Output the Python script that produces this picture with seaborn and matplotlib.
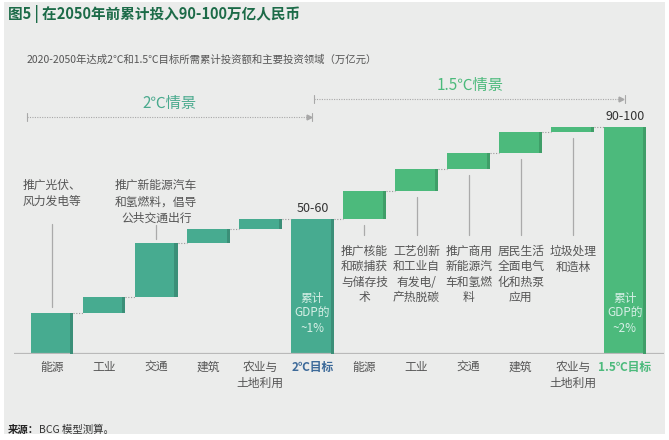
import numpy as np
import pandas as pd
import matplotlib
matplotlib.use("Agg")
import matplotlib.pyplot as plt
from matplotlib.patches import Rectangle
import seaborn as sns

# values (万亿元)
sectors = ["能源", "工业", "交通", "建筑", "农业与\n土地利用"]
inc_2c = [17.0, 6.7, 22.5, 5.8, 4.2]
inc_15 = [11.7, 9.2, 6.7, 8.7, 2.1]
total_labels = ["50-60", "90-100"]
target_labels = ["2℃目标", "1.5℃目标"]
gdp_notes = ["累计\nGDP的\n~1%", "累计\nGDP的\n~2%"]
notes_2c = {0: "推广光伏、\n风力发电等", 2: "推广新能源汽车\n和氢燃料，倡导\n公共交通出行"}
notes_15 = ["推广核能\n和碳捕获\n与储存技\n术", "工艺创新\n和工业自\n有发电/\n产热脱碳",
            "推广商用\n新能源汽\n车和氢燃\n料", "居民生活\n全面电气\n化和热泵\n应用", "垃圾处理\n和造林"]

teal, teal_dark = "#47ab90", "#3b8f78"
green, green_dark = "#4cba7c", "#3f9e68"

total_2c = sum(inc_2c)
total_15 = total_2c + sum(inc_15)
b2 = np.concatenate([[0], np.cumsum(inc_2c)[:-1]])
b15 = total_2c + np.concatenate([[0], np.cumsum(inc_15)[:-1]])

df = pd.DataFrame({
    "pos": range(12),
    "label": sectors + [target_labels[0]] + sectors + [target_labels[1]],
    "height": inc_2c + [total_2c] + inc_15 + [total_15],
    "bottom": list(b2) + [0] + list(b15) + [0],
    "color": [teal] * 6 + [green] * 6,
    "dark": [teal_dark] * 6 + [green_dark] * 6,
})
df["top"] = df["bottom"] + df["height"]

sns.set_theme(style="white")
plt.rcParams["font.family"] = ["Noto Sans CJK SC", "DejaVu Sans"]

W, H = 669, 440
fig = plt.figure(figsize=(W / 100, H / 100), dpi=100)
fig.patch.set_facecolor("white")
fig.add_artist(Rectangle((4 / W, 1 - 434 / H), 661 / W, 432 / H, transform=fig.transFigure,
                         facecolor="#ebeceb", edgecolor="none", zorder=-10))

ppu = 2.4  # pixels per unit
ax = fig.add_axes([14 / W, 1 - 354 / H, 650 / W, 274 / H])
ax.set_facecolor("none")

sns.barplot(data=df, x="pos", y="height", bottom=df["bottom"].values, width=0.82,
            errorbar=None, linewidth=0, color=teal, saturation=1, ax=ax)
strip = 0.058
for patch, c, dk in zip(ax.patches, df["color"], df["dark"]):
    patch.set_facecolor(c)
    x0, y0 = patch.get_x(), patch.get_y()
    w, h = patch.get_width(), patch.get_height()
    ax.add_patch(Rectangle((x0 + w - strip, y0), strip, h, facecolor=dk, edgecolor="none", zorder=3))

ax.set_xlim(-0.729, 11.75)
ax.set_ylim(0, 274 / ppu)
for s in ax.spines.values():
    s.set_visible(False)
ax.set_yticks([])
ax.set_xlabel("")
ax.set_ylabel("")
ax.axhline(0, color="#b9b9b9", lw=1.6, zorder=1)

# connectors
half = 0.41
for i in range(11):
    ax.plot([i + half, i + 1 - half], [df["top"][i]] * 2, color="#9a9a9a", lw=0.8, ls=(0, (1, 1.5)))

# x tick labels
ax.set_xticks(df["pos"])
ax.set_xticklabels(df["label"], fontsize=8.5, color="#555555", linespacing=1.25)
ax.tick_params(axis="x", length=0, pad=5)
tl = ax.get_xticklabels()
tl[5].set_color("#3d6a99")
tl[5].set_fontweight("bold")
tl[11].set_color(green)
tl[11].set_fontweight("bold")

# totals
for i, lab, note in [(5, total_labels[0], gdp_notes[0]), (11, total_labels[1], gdp_notes[1])]:
    ax.annotate(lab, (i, df["top"][i]), xytext=(0, 3), textcoords="offset points",
                ha="center", va="bottom", fontsize=9, color="#333333")
    ax.text(i, 17.0, note, ha="center", va="center", fontsize=8.5, color="#d6efe6", linespacing=1.2)

# 2C notes above bars
ax.text(-0.557, 72.8, notes_2c[0], ha="left", va="top", fontsize=8.5, color="#555555", linespacing=1.3)
ax.plot([0, 0], [19.6, 54.2], color="#aaaaaa", lw=0.9)
ax.text(2.0, 72.8, notes_2c[2], ha="center", va="top", fontsize=8.5, color="#555555", linespacing=1.3)
ax.plot([2, 2], [df["top"][2] + 1.7, 53.8], color="#aaaaaa", lw=0.9)

# 1.5C notes below bars
for k, note in enumerate(notes_15):
    i = 6 + k
    ax.plot([i, i], [49.6, df["bottom"][i] - 2.6], color="#aaaaaa", lw=0.9)
    ax.text(i, 45.5, note, ha="center", va="top", fontsize=8.5, color="#555555", linespacing=1.25)

# scenario headers
def header(x0, x1, y, text, ty, tx, col):
    ax.plot([x0, x1 - 0.05], [y, y], color="#a8a8a8", lw=0.8, ls=(0, (1, 1.2)), clip_on=False)
    ax.plot([x0, x0], [y - 1.6, y + 1.6], color="#a8a8a8", lw=0.8, clip_on=False)
    ax.plot([x1, x1], [y - 1.6, y + 1.6], color="#a8a8a8", lw=0.8, clip_on=False)
    ax.plot([x1 - 0.07], [y], marker=">", ms=3.5, color="#a8a8a8", clip_on=False)
    ax.text(tx, ty, text, ha="center", va="center", fontsize=11, color=col, clip_on=False)

header(-0.48, 5.0, 98.75, "2℃情景", 104.2, 2.26, "#4aaa8e")
header(5.03, 11.0, 106.25, "1.5℃情景", 111.7, 8.02, green)

# title, subtitle, source
fig.text(8 / W, 1 - 14 / H, "图5 | 在2050年前累计投入90-100万亿人民币", fontsize=10.5,
         fontweight="bold", color="#1c6b48", va="center")
fig.text(27 / W, 1 - 60 / H, "2020-2050年达成2℃和1.5℃目标所需累计投资额和主要投资领域（万亿元）",
         fontsize=7.5, color="#555555", va="center")
src = fig.text(8 / W, 1 - 430 / H, "来源：", fontsize=7.5, fontweight="bold", color="#222222", va="center")
ax.annotate("BCG 模型测算。", xy=(1, 0.5), xycoords=src, va="center", ha="left",
            fontsize=7.5, color="#333333", annotation_clip=False)

fig.savefig("out.png", dpi=100)
